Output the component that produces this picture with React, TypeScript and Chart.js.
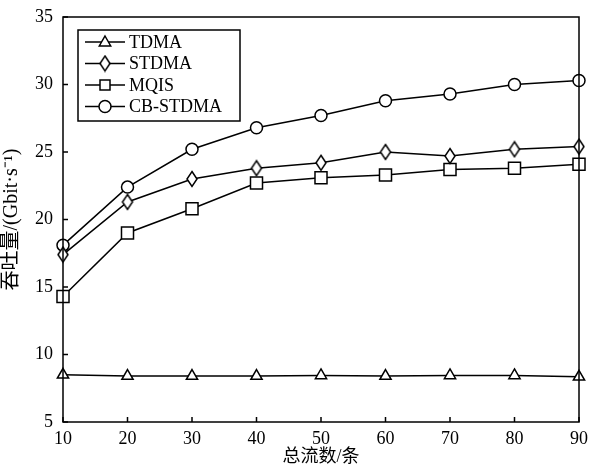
import React, { useEffect, useRef } from "react";
import { Chart, registerables } from "chart.js";

Chart.register(...registerables);

const categories = [10, 20, 30, 40, 50, 60, 70, 80, 90];
const tdma = [8.5, 8.4, 8.4, 8.4, 8.45, 8.4, 8.45, 8.45, 8.35];
const stdma = [17.4, 21.3, 23.0, 23.8, 24.2, 25.0, 24.7, 25.2, 25.4];
const mqis = [14.3, 19.0, 20.8, 22.7, 23.1, 23.3, 23.7, 23.8, 24.1];
const cbstdma = [18.1, 22.4, 25.2, 26.8, 27.7, 28.8, 29.3, 30.0, 30.3];
const seriesNames = ["TDMA", "STDMA", "MQIS", "CB-STDMA"];
const yTicks = [5, 10, 15, 20, 25, 30, 35];
const xTitle = "总流数/条";
const yTitle = "吞吐量/(Gbit·s⁻¹)";

const FONT = "'Liberation Serif', 'Noto Sans CJK SC', serif";

function makeDiamond(): HTMLCanvasElement {
  const c = document.createElement("canvas");
  c.width = 14;
  c.height = 18;
  const g = c.getContext("2d")!;
  g.beginPath();
  g.moveTo(7, 1.5);
  g.lineTo(12, 9);
  g.lineTo(7, 16.5);
  g.lineTo(2, 9);
  g.closePath();
  g.fillStyle = "#fff";
  g.fill();
  g.lineWidth = 1.5;
  g.strokeStyle = "#000";
  g.stroke();
  return c;
}

export default function App() {
  const ref = useRef<HTMLCanvasElement | null>(null);
  useEffect(() => {
    document.body.style.margin = "0";
    const diamond = makeDiamond();
    const styles: any[] = ["triangle", diamond, "rect", "circle"];
    const radii = [6.5, 7, 8.5, 6];
    const legendRadii = [6, 7, 5, 6];
    const data = [tdma, stdma, mqis, cbstdma];

    function drawMarker(ctx: CanvasRenderingContext2D, style: any, x: number, y: number, r: number) {
      ctx.save();
      ctx.fillStyle = "#fff";
      ctx.strokeStyle = "#000";
      ctx.lineWidth = 1.5;
      if (style instanceof HTMLCanvasElement) {
        ctx.drawImage(style, x - style.width / 2, y - style.height / 2);
      } else if (style === "triangle") {
        ctx.beginPath();
        ctx.moveTo(x, y - r);
        ctx.lineTo(x + r * 0.95, y + r * 0.65);
        ctx.lineTo(x - r * 0.95, y + r * 0.65);
        ctx.closePath();
        ctx.fill();
        ctx.stroke();
      } else if (style === "rect") {
        ctx.fillRect(x - r, y - r, 2 * r, 2 * r);
        ctx.strokeRect(x - r, y - r, 2 * r, 2 * r);
      } else {
        ctx.beginPath();
        ctx.arc(x, y, r, 0, Math.PI * 2);
        ctx.fill();
        ctx.stroke();
      }
      ctx.restore();
    }

    const framePlugin = {
      id: "frame",
      afterDatasetsDraw(chart: any) {
        const { ctx, chartArea: a, scales } = chart;
        ctx.save();
        ctx.strokeStyle = "#000";
        ctx.lineWidth = 1.5;
        ctx.strokeRect(a.left, a.top, a.right - a.left, a.bottom - a.top);
        ctx.beginPath();
        for (const v of yTicks) {
          const y = scales.y.getPixelForValue(v);
          ctx.moveTo(a.left, y);
          ctx.lineTo(a.left + 5, y);
        }
        for (const v of categories) {
          const x = scales.x.getPixelForValue(v);
          ctx.moveTo(x, a.bottom);
          ctx.lineTo(x, a.bottom - 5);
        }
        ctx.stroke();

        // legend
        const bx = 78, by = 30, bw = 162, bh = 91;
        ctx.fillStyle = "#fff";
        ctx.fillRect(bx, by, bw, bh);
        ctx.lineWidth = 1.5;
        ctx.strokeRect(bx, by, bw, bh);
        ctx.font = "18px " + FONT;
        ctx.textBaseline = "middle";
        ctx.textAlign = "left";
        chart.data.datasets.forEach((ds: any, i: number) => {
          const y = by + 12 + i * 21.5;
          ctx.beginPath();
          ctx.lineWidth = 1.5;
          ctx.strokeStyle = "#000";
          ctx.moveTo(85, y);
          ctx.lineTo(125, y);
          ctx.stroke();
          drawMarker(ctx, styles[i], 105, y, legendRadii[i]);
          ctx.fillStyle = "#000";
          ctx.fillText(ds.label, 129, y + 1);
        });
        ctx.restore();
      },
    };

    const chart = new Chart(ref.current!, {
      type: "line",
      data: {
        labels: categories,
        datasets: seriesNames.map((name, i) => ({
          label: name,
          data: data[i].map((v, j) => ({ x: categories[j], y: v })),
          borderColor: "#000",
          borderWidth: 1.5,
          backgroundColor: "#fff",
          pointBackgroundColor: "#fff",
          pointBorderColor: "#000",
          pointBorderWidth: 1.5,
          pointStyle: styles[i],
          pointRadius: radii[i],
          tension: 0,
          clip: false as any,
        })),
      },
      options: {
        animation: false,
        responsive: false,
        maintainAspectRatio: false,
        layout: { padding: { top: 17, right: 20, left: 0, bottom: 0 } },
        plugins: { legend: { display: false }, tooltip: { enabled: false } },
        scales: {
          x: {
            type: "linear",
            min: 10,
            max: 90,
            afterFit: (s: any) => { s.height = 46; },
            afterBuildTicks: (s: any) => { s.ticks = categories.map((v) => ({ value: v })); },
            grid: { display: false },
            border: { display: false },
            ticks: { color: "#000", font: { family: FONT, size: 18 }, padding: -2, maxRotation: 0 },
            title: { display: true, text: xTitle, color: "#000", font: { family: FONT, size: 18 }, padding: { top: 0, bottom: 0 } },
          },
          y: {
            min: 5,
            max: 35,
            afterFit: (s: any) => { s.width = 63; },
            afterBuildTicks: (s: any) => { s.ticks = yTicks.map((v) => ({ value: v })); },
            grid: { display: false },
            border: { display: false },
            ticks: { color: "#000", font: { family: FONT, size: 18 }, padding: 2 },
            title: { display: true, text: yTitle, color: "#000", font: { family: FONT, size: 20 }, padding: { top: 0, bottom: 2 } },
          },
        },
      },
      plugins: [framePlugin],
    } as any);
    return () => chart.destroy();
  }, []);
  return (
    <div style={{ position: "absolute", left: 0, top: 0, width: 599, height: 468 }}>
      <canvas ref={ref} width={599} height={468} style={{ width: 599, height: 468 }} />
    </div>
  );
}
